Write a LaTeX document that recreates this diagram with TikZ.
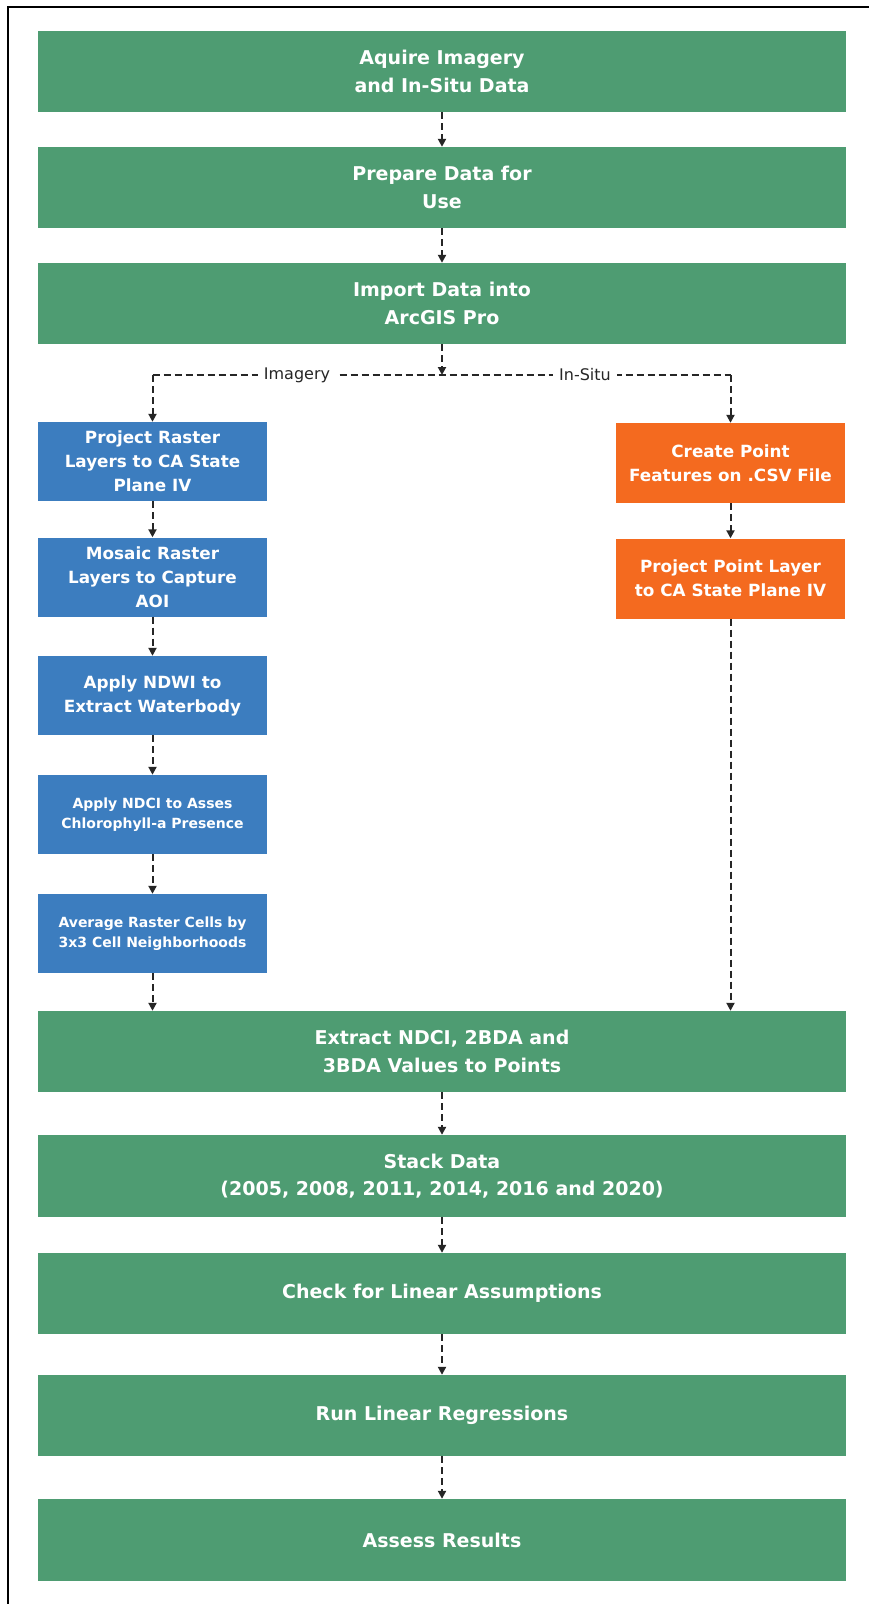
\documentclass[tikz,border=0pt]{standalone}
\usepackage{fontspec}
\setmainfont{DejaVu Sans}
\usetikzlibrary{arrows.meta}
\definecolor{gbox}{HTML}{4E9C72}
\definecolor{bbox}{HTML}{3C7DBF}
\definecolor{obox}{HTML}{F46A1F}
\begin{document}
\begin{tikzpicture}[x=1pt,y=-1pt,
  base/.style={inner sep=0pt, text=white, align=center},
  gstep/.style={base, fill=gbox, minimum width=808pt, minimum height=81pt, font=\bfseries\fontsize{19}{27.5}\selectfont},
  bstep/.style={base, fill=bbox, minimum width=229pt, minimum height=79pt, font=\bfseries\fontsize{16.8}{24}\selectfont},
  bsmall/.style={bstep, font=\bfseries\fontsize{14}{20}\selectfont},
  ostep/.style={base, fill=obox, minimum width=229pt, minimum height=80pt, font=\bfseries\fontsize{16.8}{24}\selectfont},
  flow/.style={draw=black!85, line width=2pt, dash pattern=on 7pt off 4pt, -{Triangle[length=8pt,width=8pt]}},
  branch/.style={draw=black!85, line width=2pt, dash pattern=on 7pt off 4pt},
  lab/.style={fill=white, inner sep=6pt, font=\fontsize{16}{20}\selectfont, text=black!85}
]
\useasboundingbox (0,0) rectangle (869,1604);
\fill[white] (0,0) rectangle (869,1604);
% frame
\draw[line width=1.6pt] (8,1604) -- (8,7) -- (869,7);

% main green steps
\node[gstep] (g1) at (442,71.5) {Aquire Imagery\\and In-Situ Data};
\node[gstep] (g2) at (442,187.5) {Prepare Data for\\Use};
\node[gstep] (g3) at (442,303.5) {Import Data into\\ArcGIS Pro};

% imagery branch
\node[bstep] (b1) at (152.5,461.5) {Project Raster\\Layers to CA State\\Plane IV};
\node[bstep] (b2) at (152.5,577) {Mosaic Raster\\Layers to Capture\\AOI};
\node[bstep] (b3) at (152.5,695.5) {Apply NDWI to\\Extract Waterbody};
\node[bsmall] (b4) at (152.5,814.5) {Apply NDCI to Asses\\Chlorophyll-a Presence};
\node[bsmall] (b5) at (152.5,933.5) {Average Raster Cells by\\3x3 Cell Neighborhoods};

% in-situ branch
\node[ostep] (o1) at (730.5,463) {Create Point\\Features on .CSV File};
\node[ostep] (o2) at (730.5,578.5) {Project Point Layer\\to CA State Plane IV};

% lower green steps
\node[gstep] (g4) at (442,1051.5) {Extract NDCI, 2BDA and\\3BDA Values to Points};
\node[gstep, minimum height=82pt] (g5) at (442,1176) {Stack Data\\(2005, 2008, 2011, 2014, 2016 and 2020)};
\node[gstep] (g6) at (442,1293.5) {Check for Linear Assumptions};
\node[gstep] (g7) at (442,1415.5) {Run Linear Regressions};
\node[gstep, minimum height=82pt] (g8) at (442,1540) {Assess Results};

% split coordinates
\coordinate (split) at (442,375);
\coordinate (sl) at (152.5,375);
\coordinate (sr) at (730.5,375);

\draw[flow] (g1.south) -- (g2.north);
\draw[flow] (g2.south) -- (g3.north);
\draw[flow] (g3.south) -- (split);
\draw[branch] (sl) -- (sr);
\node[lab] (limg) at (297,375) {Imagery};
\node[lab] (lins) at (585,375) {In-Situ};
\draw[flow] (sl) -- (b1.north);
\draw[flow] (sr) -- (o1.north);

\draw[flow] (b1.south) -- (b2.north);
\draw[flow] (b2.south) -- (b3.north);
\draw[flow] (b3.south) -- (b4.north);
\draw[flow] (b4.south) -- (b5.north);
\draw[flow] (b5.south) -- (b5.south |- g4.north);

\draw[flow] (o1.south) -- (o2.north);
\draw[flow] (o2.south) -- (o2.south |- g4.north);

\draw[flow] (g4.south) -- (g5.north);
\draw[flow] (g5.south) -- (g6.north);
\draw[flow] (g6.south) -- (g7.north);
\draw[flow] (g7.south) -- (g8.north);
\end{tikzpicture}
\end{document}
